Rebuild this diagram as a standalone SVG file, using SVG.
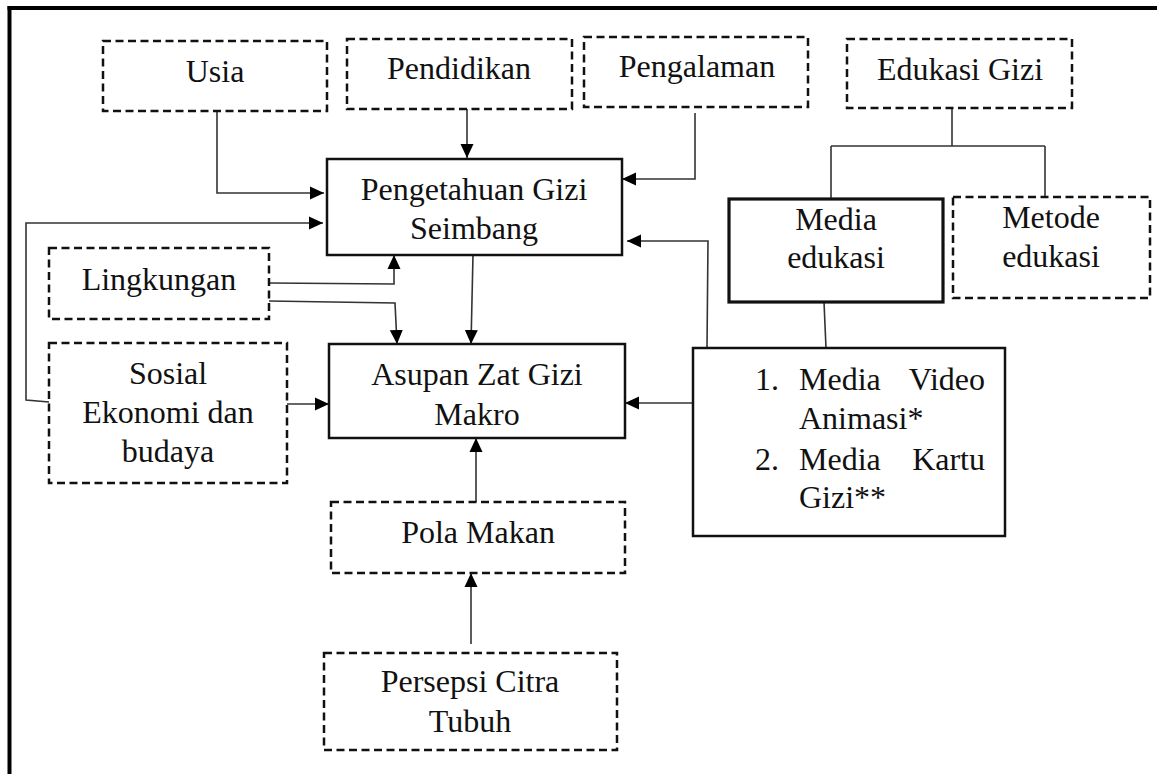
<svg xmlns="http://www.w3.org/2000/svg" width="1157" height="774" viewBox="0 0 1157 774">
<defs>
<style>
.dash{fill:#fff;stroke:#111;stroke-width:2.5;stroke-dasharray:8 4.5}
.solid{fill:#fff;stroke:#111;stroke-width:2.5}
.thick{fill:#fff;stroke:#111;stroke-width:3.2}
text{font-family:"Liberation Serif","Times New Roman",serif;font-size:32px;fill:#111}
.c{text-anchor:middle}
.ln{fill:none;stroke:#333;stroke-width:1.6}
.arr{marker-end:url(#ah)}
</style>
<marker id="ah" markerWidth="14" markerHeight="14" refX="14" refY="7" orient="auto" markerUnits="userSpaceOnUse">
<path d="M0,0.5 L14,7 L0,13.5 z" fill="#000"/>
</marker>
</defs>
<rect width="1157" height="774" fill="#fff"/>
<g id="frame">
<line x1="7.5" y1="8" x2="1157" y2="8" stroke="#000" stroke-width="4"/>
<line x1="9.5" y1="6" x2="9.5" y2="774" stroke="#000" stroke-width="4"/>
</g>
<g id="connectors">
<path class="ln arr" d="M217,111 V193 H324"/>
<path class="ln arr" d="M467,108 V158"/>
<path class="ln arr" d="M695,113 V179 H622"/>
<path class="ln arr" d="M49,402 L26,400 V223 H323"/>
<path class="ln arr" d="M269,283 L394,284 V255"/>
<path class="ln arr" d="M269,301 L395,303 L397,344"/>
<path class="ln arr" d="M287,404 H329"/>
<path class="ln arr" d="M473,255 L471,344"/>
<path class="ln arr" d="M476,502 V438"/>
<path class="ln arr" d="M471,644 V573"/>
<path class="ln arr" d="M693,403 H625"/>
<path class="ln arr" d="M707,348 L708,241 H627"/>
<path class="ln" d="M952,108 V146 M831,146 H1045 M831,146 V199 M1045,146 V197"/>
<path class="ln" d="M824,302 L826,348"/>
</g>
<g id="usia">
<rect class="dash" x="103" y="41" width="224" height="70"/>
<text class="c" x="215" y="82">Usia</text>
</g>
<g id="pendidikan">
<rect class="dash" x="347" y="39" width="225" height="70"/>
<text class="c" x="459" y="79">Pendidikan</text>
</g>
<g id="pengalaman">
<rect class="dash" x="584" y="37" width="224" height="70"/>
<text class="c" x="697" y="77">Pengalaman</text>
</g>
<g id="edukasi-gizi">
<rect class="dash" x="847" y="39" width="225" height="69"/>
<text class="c" x="960" y="80">Edukasi Gizi</text>
</g>
<g id="pengetahuan">
<rect class="solid" x="327" y="159" width="295" height="96"/>
<text class="c" x="474" y="200">Pengetahuan Gizi</text>
<text class="c" x="474" y="239">Seimbang</text>
</g>
<g id="media-edukasi">
<rect class="thick" x="729" y="199" width="214" height="103"/>
<text class="c" x="836" y="230">Media</text>
<text class="c" x="836" y="268">edukasi</text>
</g>
<g id="metode-edukasi">
<rect class="dash" x="953" y="197" width="197" height="101"/>
<text class="c" x="1051" y="228">Metode</text>
<text class="c" x="1051" y="267">edukasi</text>
</g>
<g id="lingkungan">
<rect class="dash" x="49" y="248" width="220" height="71"/>
<text class="c" x="159" y="290">Lingkungan</text>
</g>
<g id="sosial">
<rect class="dash" x="49" y="343" width="238" height="140"/>
<text class="c" x="168" y="384">Sosial</text>
<text class="c" x="168" y="423">Ekonomi dan</text>
<text class="c" x="168" y="462">budaya</text>
</g>
<g id="asupan">
<rect class="solid" x="329" y="344" width="296" height="94"/>
<text class="c" x="477" y="385">Asupan Zat Gizi</text>
<text class="c" x="477" y="425">Makro</text>
</g>
<g id="media-list">
<rect class="solid" x="693" y="348" width="312" height="188"/>
<text x="755" y="390">1.</text>
<text x="799" y="390">Media</text>
<text x="985" y="390" text-anchor="end">Video</text>
<text x="799" y="429">Animasi*</text>
<text x="755" y="470">2.</text>
<text x="799" y="470">Media</text>
<text x="985" y="470" text-anchor="end">Kartu</text>
<text x="799" y="508">Gizi**</text>
</g>
<g id="pola-makan">
<rect class="dash" x="331" y="502" width="294" height="71"/>
<text class="c" x="478" y="543">Pola Makan</text>
</g>
<g id="persepsi">
<rect class="dash" x="324" y="653" width="293" height="97"/>
<text class="c" x="470" y="692">Persepsi Citra</text>
<text class="c" x="470" y="732">Tubuh</text>
</g>
</svg>
